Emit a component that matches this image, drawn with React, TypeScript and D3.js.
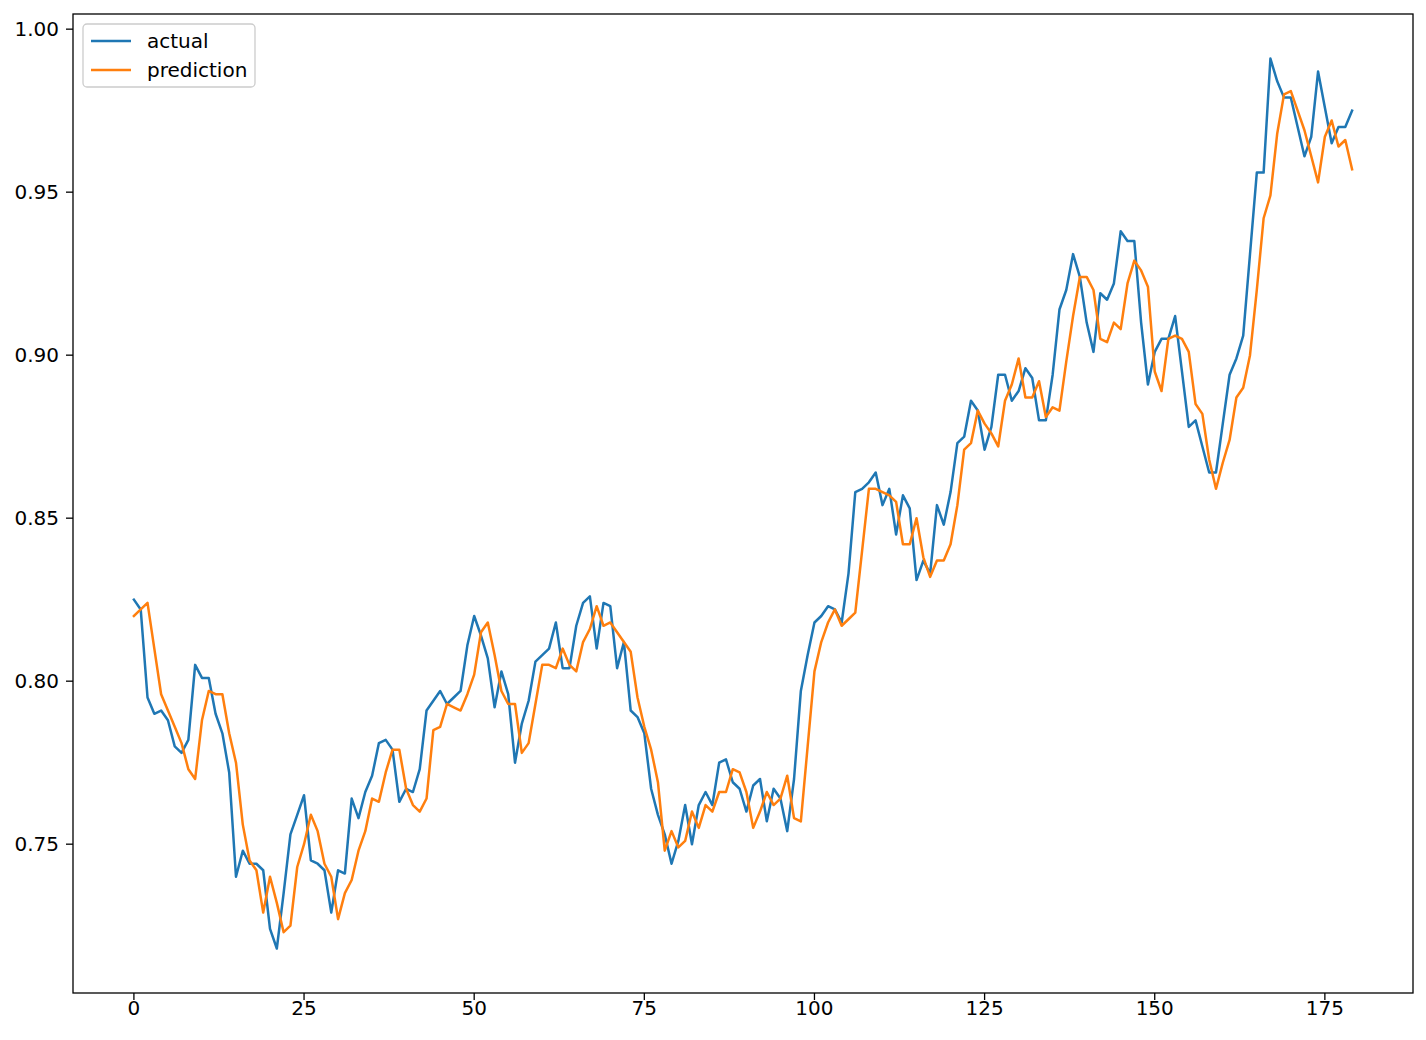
import React from "react";
import * as d3 from "d3";

const actual: number[] = [
  0.825, 0.822, 0.795, 0.79, 0.791, 0.788, 0.78, 0.778, 0.782, 0.805,
  0.801, 0.801, 0.79, 0.784, 0.772, 0.74, 0.748, 0.744, 0.744, 0.742,
  0.724, 0.718, 0.735, 0.753, 0.759, 0.765, 0.745, 0.744, 0.742, 0.729,
  0.742, 0.741, 0.764, 0.758, 0.766, 0.771, 0.781, 0.782, 0.779, 0.763,
  0.767, 0.766, 0.773, 0.791, 0.794, 0.797, 0.793, 0.795, 0.797, 0.811,
  0.82, 0.814, 0.807, 0.792, 0.803, 0.796, 0.775, 0.787, 0.794, 0.806,
  0.808, 0.81, 0.818, 0.804, 0.804, 0.817, 0.824, 0.826, 0.81, 0.824,
  0.823, 0.804, 0.812, 0.791, 0.789, 0.784, 0.767, 0.759, 0.753, 0.744,
  0.751, 0.762, 0.75, 0.762, 0.766, 0.762, 0.775, 0.776, 0.769, 0.767,
  0.76, 0.768, 0.77, 0.757, 0.767, 0.764, 0.754, 0.77, 0.797, 0.808,
  0.818, 0.82, 0.823, 0.822, 0.818, 0.833, 0.858, 0.859, 0.861, 0.864,
  0.854, 0.859, 0.845, 0.857, 0.853, 0.831, 0.837, 0.833, 0.854, 0.848,
  0.858, 0.873, 0.875, 0.886, 0.883, 0.871, 0.878, 0.894, 0.894, 0.886,
  0.889, 0.896, 0.893, 0.88, 0.88, 0.894, 0.914, 0.92, 0.931, 0.924,
  0.91, 0.901, 0.919, 0.917, 0.922, 0.938, 0.935, 0.935, 0.91, 0.891,
  0.901, 0.905, 0.905, 0.912, 0.895, 0.878, 0.88, 0.872, 0.864, 0.864,
  0.879, 0.894, 0.899, 0.906, 0.931, 0.956, 0.956, 0.991, 0.984, 0.979,
  0.979, 0.97, 0.961, 0.967, 0.987, 0.976, 0.965, 0.97, 0.97, 0.975,
];

const prediction: number[] = [
  0.82, 0.822, 0.824, 0.81, 0.796, 0.791, 0.786, 0.781, 0.773, 0.77,
  0.788, 0.797, 0.796, 0.796, 0.784, 0.775, 0.756, 0.745, 0.742, 0.729,
  0.74, 0.732, 0.723, 0.725, 0.743, 0.75, 0.759, 0.754, 0.744, 0.74,
  0.727, 0.735, 0.739, 0.748, 0.754, 0.764, 0.763, 0.772, 0.779, 0.779,
  0.767, 0.762, 0.76, 0.764, 0.785, 0.786, 0.793, 0.792, 0.791, 0.796,
  0.802, 0.815, 0.818, 0.808, 0.797, 0.793, 0.793, 0.778, 0.781, 0.793,
  0.805, 0.805, 0.804, 0.81, 0.805, 0.803, 0.812, 0.816, 0.823, 0.817,
  0.818, 0.815, 0.812, 0.809, 0.795, 0.786, 0.779, 0.769, 0.748, 0.754,
  0.749, 0.751, 0.76, 0.755, 0.762, 0.76, 0.766, 0.766, 0.773, 0.772,
  0.766, 0.755, 0.76, 0.766, 0.762, 0.764, 0.771, 0.758, 0.757, 0.78,
  0.803, 0.812, 0.818, 0.822, 0.817, 0.819, 0.821, 0.84, 0.859, 0.859,
  0.858, 0.857, 0.855, 0.842, 0.842, 0.85, 0.838, 0.832, 0.837, 0.837,
  0.842, 0.854, 0.871, 0.873, 0.883, 0.879, 0.876, 0.872, 0.886, 0.891,
  0.899, 0.887, 0.887, 0.892, 0.881, 0.884, 0.883, 0.898, 0.912, 0.924,
  0.924, 0.92, 0.905, 0.904, 0.91, 0.908, 0.922, 0.929, 0.926, 0.921,
  0.895, 0.889, 0.905, 0.906, 0.905, 0.901, 0.885, 0.882, 0.868, 0.859,
  0.867, 0.874, 0.887, 0.89, 0.9, 0.92, 0.942, 0.949, 0.968, 0.98,
  0.981, 0.975, 0.969, 0.961, 0.953, 0.967, 0.972, 0.964, 0.966, 0.957,
];

const xTicks: number[] = [0, 25, 50, 75, 100, 125, 150, 175];
const yTicks: number[] = [0.75, 0.8, 0.85, 0.9, 0.95, 1.0];
const seriesNames: string[] = ["actual", "prediction"];
const seriesColors: string[] = ["#1f77b4", "#ff7f0e"];

const W = 1426;
const H = 1040;
const M = { left: 73, right: 1413, top: 14, bottom: 993 };
const FONT = "DejaVu Sans, sans-serif";
const FS = 20;
const TICK = 7;

export default function App() {
  const n = actual.length;
  const xPad = (n - 1) * 0.05;
  const x = d3.scaleLinear().domain([-xPad, n - 1 + xPad]).range([M.left, M.right]);
  const all = actual.concat(prediction);
  const lo = d3.min(all) as number;
  const hi = d3.max(all) as number;
  const yPad = (hi - lo) * 0.05;
  const y = d3.scaleLinear().domain([lo - yPad, hi + yPad]).range([M.bottom, M.top]);

  const line = d3
    .line<number>()
    .x((_, i) => x(i))
    .y((d) => y(d));

  const series = [actual, prediction];

  return (
    <svg
      width={W}
      height={H}
      style={{ position: "absolute", left: 0, top: 0, background: "#fff" }}
      fontFamily={FONT}
    >
      <rect x={0} y={0} width={W} height={H} fill="#fff" />
      <defs>
        <clipPath id="plot">
          <rect x={M.left} y={M.top} width={M.right - M.left} height={M.bottom - M.top} />
        </clipPath>
      </defs>
      <g clipPath="url(#plot)">
        {series.map((s, k) => (
          <path
            key={k}
            d={line(s) as string}
            fill="none"
            stroke={seriesColors[k]}
            strokeWidth={2.5}
            strokeLinejoin="round"
            strokeLinecap="square"
          />
        ))}
      </g>
      <rect
        x={M.left}
        y={M.top}
        width={M.right - M.left}
        height={M.bottom - M.top}
        fill="none"
        stroke="#000"
        strokeWidth={1.3}
      />
      {xTicks.map((t) => (
        <g key={"x" + t}>
          <line x1={x(t)} x2={x(t)} y1={M.bottom} y2={M.bottom + TICK} stroke="#000" strokeWidth={1.3} />
          <text x={x(t)} y={M.bottom + 22} textAnchor="middle" fontSize={FS} fill="#000">
            {t}
          </text>
        </g>
      ))}
      {yTicks.map((t) => (
        <g key={"y" + t}>
          <line x1={M.left - TICK} x2={M.left} y1={y(t)} y2={y(t)} stroke="#000" strokeWidth={1.3} />
          <text
            x={M.left - 14}
            y={y(t)}
            dy="0.36em"
            textAnchor="end"
            fontSize={FS}
            fill="#000"
          >
            {t.toFixed(2)}
          </text>
        </g>
      ))}
      <g>
        <rect
          x={83}
          y={24}
          width={172}
          height={63}
          rx={4}
          fill="#fff"
          fillOpacity={0.8}
          stroke="#cccccc"
          strokeWidth={1.3}
        />
        {seriesNames.map((name, k) => (
          <g key={name}>
            <line
              x1={91}
              x2={131}
              y1={41 + k * 29}
              y2={41 + k * 29}
              stroke={seriesColors[k]}
              strokeWidth={2.5}
            />
            <text x={147} y={41 + k * 29} dy="0.36em" fontSize={FS} fill="#000">
              {name}
            </text>
          </g>
        ))}
      </g>
    </svg>
  );
}
